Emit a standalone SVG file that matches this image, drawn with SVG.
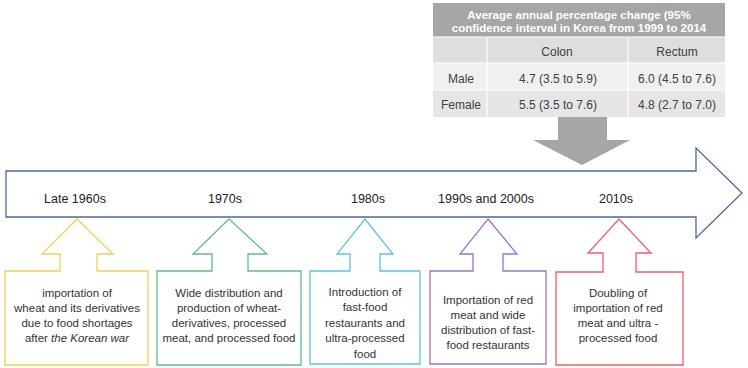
<svg xmlns="http://www.w3.org/2000/svg" width="748" height="368" viewBox="0 0 748 368">
<style>
.t{font-family:"Liberation Sans",Arial,sans-serif;font-size:11.5px;fill:#333;text-anchor:middle}
.yr{font-family:"Liberation Sans",Arial,sans-serif;font-size:12.5px;fill:#222;text-anchor:middle}
.th{font-family:"Liberation Sans",Arial,sans-serif;font-size:11.5px;font-weight:bold;fill:#fff;text-anchor:middle}
.tc{font-family:"Liberation Sans",Arial,sans-serif;font-size:12px;fill:#404040;text-anchor:middle}
.call{fill:#fff;stroke-width:1.3}
</style>
<rect width="748" height="368" fill="#fff"/>
<g id="table">
<rect x="433" y="3" width="292" height="34" fill="#a6a6a6"/>
<rect x="433" y="37" width="292" height="26" fill="#dedede"/>
<rect x="433" y="63" width="292" height="27" fill="#f0f0f0"/>
<rect x="433" y="90" width="292" height="27" fill="#e6e6e6"/>
<g stroke="#fff" stroke-width="1.2">
<line x1="433" y1="37" x2="725" y2="37"/>
<line x1="433" y1="63" x2="725" y2="63"/>
<line x1="433" y1="90" x2="725" y2="90"/>
<line x1="487" y1="37" x2="487" y2="117"/>
<line x1="628" y1="37" x2="628" y2="117"/>
</g>
<text class="th" x="579" y="19">Average annual percentage change (95%</text>
<text class="th" x="579" y="32">confidence interval in Korea from 1999 to 2014</text>
<text class="tc" x="557" y="56">Colon</text>
<text class="tc" x="677" y="56">Rectum</text>
<text class="tc" x="461" y="83">Male</text>
<text class="tc" x="558" y="83">4.7 (3.5 to 5.9)</text>
<text class="tc" x="677" y="83">6.0 (4.5 to 7.6)</text>
<text class="tc" x="461" y="109">Female</text>
<text class="tc" x="558" y="109">5.5 (3.5 to 7.6)</text>
<text class="tc" x="677" y="109">4.8 (2.7 to 7.0)</text>
</g>
<g id="down-arrow">
<polygon points="558,117 607,117 607,140 630,140 582,165 533,140 558,140" fill="#a6a6a6"/>
</g>
<g id="timeline">
<polygon points="6,171 696,171 696,148 742,193 696,238 696,217 6,217" fill="#fff" stroke="#4a68a8" stroke-width="1.3"/>
<text class="yr" x="75" y="203">Late 1960s</text>
<text class="yr" x="225" y="203">1970s</text>
<text class="yr" x="368" y="203">1980s</text>
<text class="yr" x="486" y="203">1990s and 2000s</text>
<text class="yr" x="616" y="203">2010s</text>
</g>
<g id="late1960s">
<polygon class="call" stroke="#f2cf5a" points="77,219 113,254 97,254 97,271 148,271 148,365 5,365 5,271 60,271 60,254 42,254"/>
<text class="t" x="77" y="297">importation of</text>
<text class="t" x="77" y="312">wheat and its derivatives</text>
<text class="t" x="77" y="327">due to food shortages</text>
<text class="t" x="77" y="342">after <tspan font-style="italic">the Korean war</tspan></text>
</g>
<g id="n1970s">
<polygon class="call" stroke="#5cbf8c" points="229,219 267,254 248,254 248,271 301,271 301,365 157,365 157,271 212,271 212,254 193,254"/>
<text class="t" x="229" y="297">Wide distribution and</text>
<text class="t" x="229" y="312">production of wheat-</text>
<text class="t" x="229" y="327">derivatives, processed</text>
<text class="t" x="229" y="342">meat, and processed food</text>
</g>
<g id="n1980s">
<polygon class="call" stroke="#5cc3df" points="365,219 393,254 380,254 380,271 420,271 420,364 310,364 310,271 350,271 350,254 337,254"/>
<text class="t" x="365" y="296">Introduction of</text>
<text class="t" x="365" y="311">fast-food</text>
<text class="t" x="365" y="327">restaurants and</text>
<text class="t" x="365" y="342">ultra-processed</text>
<text class="t" x="365" y="358">food</text>
</g>
<g id="n1990s">
<polygon class="call" stroke="#9a74c6" points="488,219 517,254 503,254 503,271 546,271 546,364 430,364 430,271 473,271 473,254 460,254"/>
<text class="t" x="488" y="304">Importation of red</text>
<text class="t" x="488" y="319">meat and wide</text>
<text class="t" x="488" y="334">distribution of fast-</text>
<text class="t" x="488" y="349">food restaurants</text>
</g>
<g id="n2010s">
<polygon class="call" stroke="#ee5f68" points="619,219 651,253 636,253 636,272 683,272 683,365 556,365 556,272 603,272 603,253 588,253"/>
<text class="t" x="618" y="297">Doubling of</text>
<text class="t" x="618" y="312">importation of red</text>
<text class="t" x="618" y="327">meat and ultra -</text>
<text class="t" x="618" y="342">processed food</text>
</g>
</svg>
